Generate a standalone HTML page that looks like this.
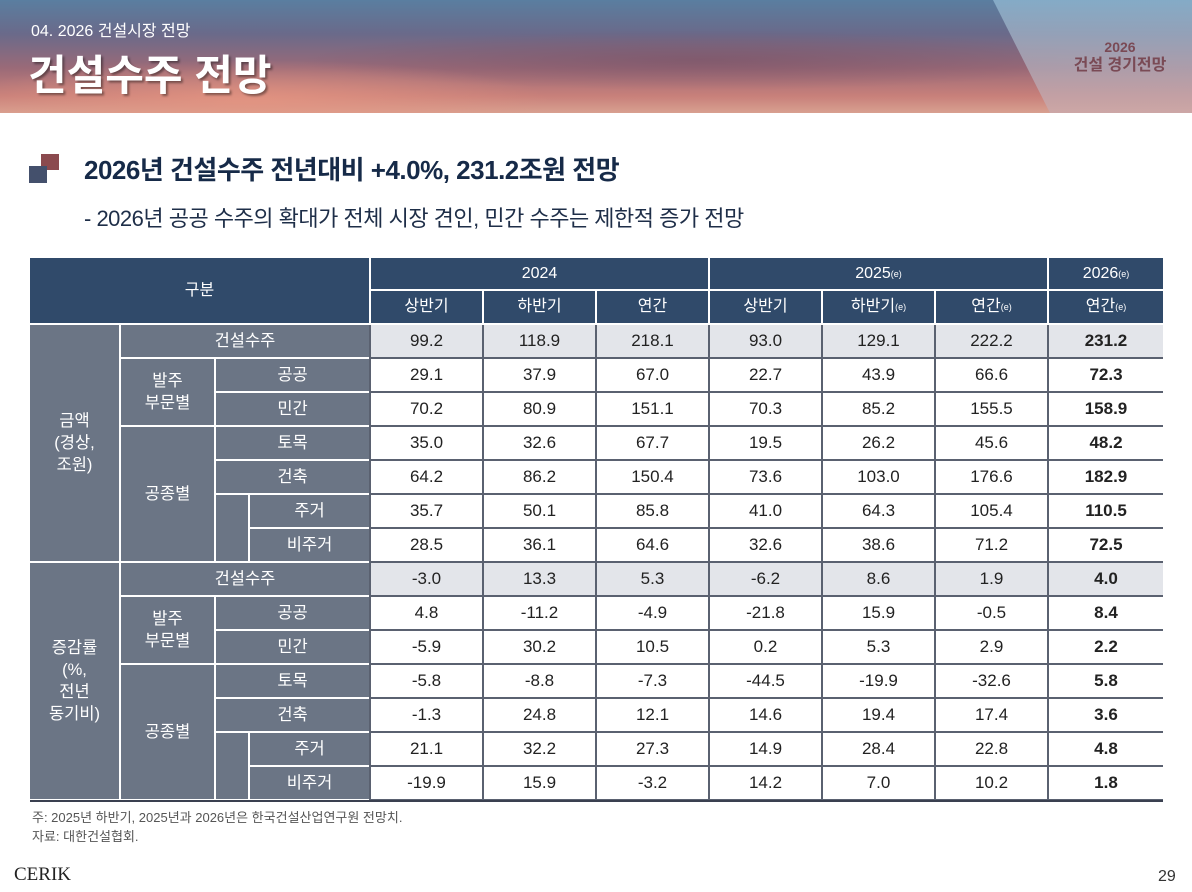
<!DOCTYPE html>
<html><head><meta charset="utf-8">
<style>
body{margin:0;width:1192px;height:892px;position:relative;background:#fff;font-family:"Liberation Sans","Noto Sans CJK KR",sans-serif;overflow:hidden}
.abs{position:absolute}
#banner{left:0;top:0;width:1192px;height:113px;background:
radial-gradient(ellipse 300px 40px at 250px 100px,rgba(230,150,130,.8),transparent),
radial-gradient(ellipse 400px 30px at 700px 60px,rgba(120,80,100,.6),transparent),
linear-gradient(180deg,#5a7ea0 0%,#6a6a8a 30%,#9a6a78 60%,#c8807a 85%,#d8a090 100%);}
#panel{left:0;top:0;width:1192px;height:113px;background:linear-gradient(180deg,rgba(150,190,215,.7),rgba(200,170,175,.7));clip-path:polygon(993px 0,1192px 0,1192px 113px,1050px 113px)}
.cell{position:absolute;display:flex;align-items:center;justify-content:center;text-align:center;box-sizing:border-box;font-size:17px;line-height:22px}
.hd{background:#304a6a;color:#fff;font-size:16px}
.lb{background:#6b7585;color:#fff;font-size:16.5px}
.dt{background:#fff;color:#222}
.tot{background:#e3e5ea}
</style></head><body>
<div id="banner" class="abs"></div>
<div id="panel" class="abs"></div>
<div class="abs" style="left:31px;top:17px;color:#fff;font-size:16px">04. 2026 건설시장 전망</div>
<div class="abs" style="left:28px;top:42px;color:#fff;font-size:42px;font-weight:bold;text-shadow:2px 2px 2px rgba(0,0,0,.4)">건설수주 전망</div>
<div class="abs" style="left:1060px;top:38px;width:120px;text-align:center;color:#7a4a55;font-size:14px;font-weight:bold;line-height:18px">2026<br><span style="font-size:16px">건설 경기전망</span></div>
<div class="abs" style="left:41px;top:154px;width:18px;height:16px;background:#8b4a4e"></div>
<div class="abs" style="left:29px;top:166px;width:18px;height:17px;background:#44506c"></div>
<div class="abs" style="left:84px;top:150px;color:#162a48;font-size:26px;font-weight:bold;letter-spacing:-0.5px">2026년 건설수주 전년대비 +4.0%, 231.2조원 전망</div>
<div class="abs" style="left:84px;top:201px;color:#1e2e48;font-size:22px;letter-spacing:-0.5px">- 2026년 공공 수주의 확대가 전체 시장 견인, 민간 수주는 제한적 증가 전망</div>
<div id="tbl" class="abs" style="left:0;top:0"></div>
<div class="abs" style="left:30px;top:800px;width:1133px;height:2px;background:#3a4050"></div>
<div class="abs" style="left:32px;top:808px;color:#555;font-size:13px;line-height:19px">주: 2025년 하반기, 2025년과 2026년은 한국건설산업연구원 전망치.<br>자료: 대한건설협회.</div>
<div class="abs" style="left:14px;top:864px;font-family:'Liberation Serif',serif;font-size:19px;color:#222">CERIK</div>
<div class="abs" style="left:1158px;top:868px;font-size:16px;color:#333">29</div>
<script>
const amount=[[99.2,118.9,218.1,93.0,129.1,222.2,231.2],[29.1,37.9,67.0,22.7,43.9,66.6,72.3],[70.2,80.9,151.1,70.3,85.2,155.5,158.9],[35.0,32.6,67.7,19.5,26.2,45.6,48.2],[64.2,86.2,150.4,73.6,103.0,176.6,182.9],[35.7,50.1,85.8,41.0,64.3,105.4,110.5],[28.5,36.1,64.6,32.6,38.6,71.2,72.5]];
const growth=[[-3.0,13.3,5.3,-6.2,8.6,1.9,4.0],[4.8,-11.2,-4.9,-21.8,15.9,-0.5,8.4],[-5.9,30.2,10.5,0.2,5.3,2.9,2.2],[-5.8,-8.8,-7.3,-44.5,-19.9,-32.6,5.8],[-1.3,24.8,12.1,14.6,19.4,17.4,3.6],[21.1,32.2,27.3,14.9,28.4,22.8,4.8],[-19.9,15.9,-3.2,14.2,7.0,10.2,1.8]];
const subHeads=['상반기','하반기','연간','상반기','하반기<sup>(e)</sup>','연간<sup>(e)</sup>','연간<sup>(e)</sup>'];
const X=[30,121,216,250,371,484,597,710,823,936,1049,1163];
const T=document.getElementById('tbl');
function cell(x1,y1,x2,y2,cls,html,name,gx,gy){const d=document.createElement('div');
d.className='cell '+cls;d.style.left=x1+'px';d.style.top=y1+'px';d.style.width=(x2-x1-gx)+'px';d.style.height=(y2-y1-gy)+'px';d.innerHTML=html;


T.appendChild(d);}
const bgW=document.createElement('div');bgW.className='abs';bgW.style.cssText='left:30px;top:258px;width:1133px;height:543px;background:#fff';


T.appendChild(bgW);
const bgD=document.createElement('div');bgD.className='abs';bgD.style.cssText='left:369px;top:325px;width:794px;height:476px;background:#5a6170';


T.appendChild(bgD);
cell(30,258,371,325,'hd','구분','header-category',2,2);
cell(371,258,710,291,'hd','2024','header-2024',2,2);
cell(710,258,1049,291,'hd','2025<sup style="font-size:9px">(e)</sup>','header-2025',2,2);
cell(1049,258,1163,291,'hd','2026<sup style="font-size:9px">(e)</sup>','header-2026',0,2);
subHeads.forEach((h,i)=>cell(X[4+i],291,X[5+i],325,'hd',h.replace('<sup>','<sup style="font-size:9px">'),'subheader-'+i,i==6?0:2,2));
const R=34;
function section(y0,group,data,key){
 const y=i=>y0+i*R;
 cell(30,y(0),121,y(7),'lb',group,key+'-group-label',2,2);
 cell(121,y(0),371,y(1),'lb','건설수주',key+'-total-label',2,2);
 cell(121,y(1),216,y(3),'lb','발주<br>부문별',key+'-by-client-label',2,2);
 cell(216,y(1),371,y(2),'lb','공공',key+'-public-label',2,2);
 cell(216,y(2),371,y(3),'lb','민간',key+'-private-label',2,2);
 cell(121,y(3),216,y(7),'lb','공종별',key+'-by-type-label',2,2);
 cell(216,y(3),371,y(4),'lb','토목',key+'-civil-label',2,2);
 cell(216,y(4),371,y(5),'lb','건축',key+'-building-label',2,2);
 cell(216,y(5),250,y(7),'lb','',key+'-indent',2,2);
 cell(250,y(5),371,y(6),'lb','주거',key+'-residential-label',2,2);
 cell(250,y(6),371,y(7),'lb','비주거',key+'-nonres-label',2,2);
 data.forEach((row,r)=>row.forEach((v,c)=>{
  cell(X[4+c],y(r),X[5+c],y(r+1),'dt'+(r==0?' tot':''),(c==6?'<b>':'')+v.toFixed(1)+(c==6?'</b>':''),key+'-value-r'+r+'-c'+c,c==6?0:2,2);
 }));
}
section(325,'금액<br>(경상,<br>조원)',amount,'amount');
section(325+7*R,'증감률<br>(%,<br>전년<br>동기비)',growth,'growth');
</script>
</body></html>
